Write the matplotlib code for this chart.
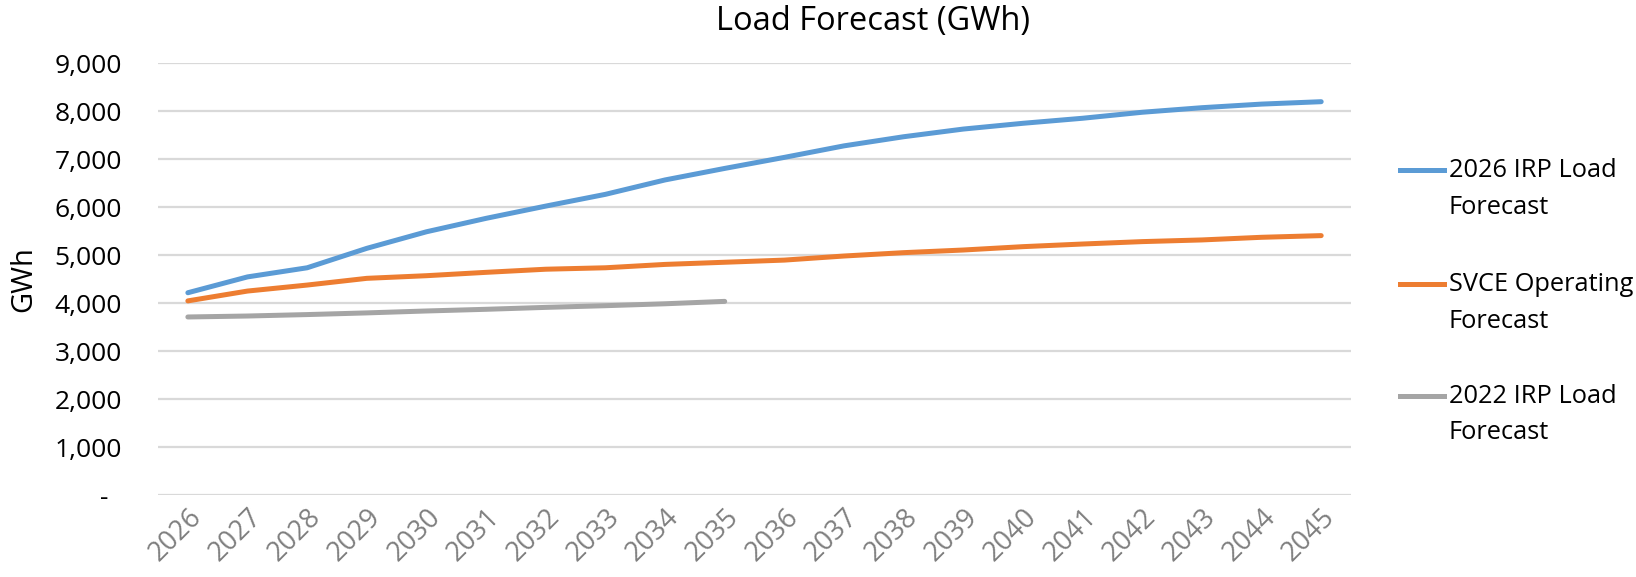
import numpy as np
import matplotlib.pyplot as plt
from matplotlib.lines import Line2D
from matplotlib.ticker import FuncFormatter

plt.rcParams['font.family'] = ['Open Sans', 'DejaVu Sans']

# yearly load forecasts, GWh
years = [str(y) for y in range(2026, 2046)]
irp_2026 = [4220, 4550, 4740, 5145, 5490, 5770, 6025, 6270, 6570, 6810,
            7040, 7280, 7470, 7630, 7750, 7855, 7980, 8075, 8150, 8200]
svce_operating = [4050, 4255, 4380, 4520, 4575, 4645, 4710, 4740, 4810, 4855,
                  4900, 4985, 5055, 5110, 5180, 5235, 5285, 5320, 5375, 5410]
irp_2022 = [3715, 3735, 3765, 3800, 3840, 3875, 3915, 3950, 3990, 4040]

series_names = ['2026 IRP Load\nForecast', 'SVCE Operating\nForecast',
                '2022 IRP Load\nForecast']
colors = ['#5B9BD5', '#ED7D31', '#A5A5A5']

fig = plt.figure(figsize=(16.36, 5.77), dpi=100)
ax = fig.add_axes([0.0966, 0.1416, 0.7292, 0.7487])

x = np.arange(len(years))
ax.plot(x, irp_2026, color=colors[0], lw=3.6, solid_capstyle='round')
ax.plot(x, svce_operating, color=colors[1], lw=3.6, solid_capstyle='round')
ax.plot(x[:len(irp_2022)], irp_2022, color=colors[2], lw=3.6,
        solid_capstyle='round')

ax.set_xlim(-0.5, len(years) - 0.5)
ax.set_ylim(0, 9000)
ax.set_yticks(np.arange(0, 9001, 1000))
ax.yaxis.set_major_formatter(
    FuncFormatter(lambda v, p: '-  ' if v == 0 else f'{int(v):,}'))
ax.set_xticks(x)
ax.set_xticklabels(years, rotation=45, ha='right', rotation_mode='anchor',
                   color='#7f7f7f', fontsize=19.5)
ax.tick_params(axis='y', labelsize=19, length=0, pad=26)
ax.tick_params(axis='x', length=0, pad=6)

ax.grid(axis='y', color='#d9d9d9', lw=1.6)
ax.set_axisbelow(True)
for s in ax.spines.values():
    s.set_visible(False)

ax.set_ylabel('GWh', fontsize=21)
ax.yaxis.set_label_coords(-0.1, 0.5)
fig.text(0.5335, 0.962, 'Load Forecast (GWh)', ha='center', va='center',
         fontsize=23.5)

# legend on the right, handle level with the first text line
leg_y = [0.705, 0.508, 0.314]
for name, c, yy in zip(series_names, colors, leg_y):
    fig.add_artist(Line2D([0.8555, 0.8825], [yy, yy], color=c, lw=3.6,
                          transform=fig.transFigure))
    fig.text(0.8855, yy + 0.021, name, ha='left', va='top', fontsize=18.3,
             linespacing=1.62)

fig.savefig('out.png', dpi=100)
